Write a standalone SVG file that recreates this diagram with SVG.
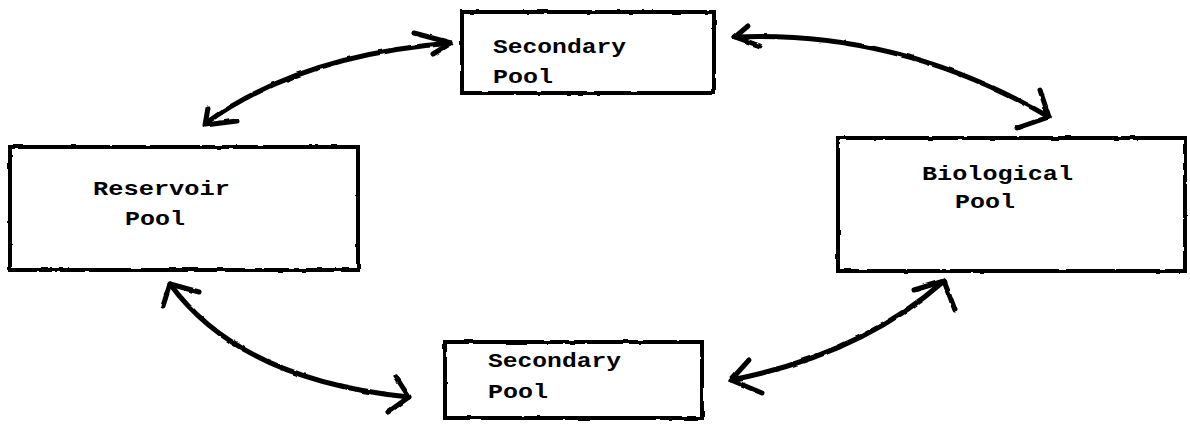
<svg xmlns="http://www.w3.org/2000/svg" width="1190" height="426" viewBox="0 0 1190 426">
  <style>
    .box { fill: none; stroke: #000; stroke-width: 4; stroke-linejoin: miter; }
    .flow { fill: none; stroke: #000; stroke-width: 5; stroke-linecap: round; stroke-linejoin: round; }
    .lbl { font-family: "Liberation Mono", "DejaVu Sans Mono", monospace; font-weight: bold; font-size: 21px; fill: #000; }
  </style>
  <defs>
    <!-- slight wobble for the hand-drawn ink lines -->
    <filter id="ink" x="-5%" y="-5%" width="110%" height="110%">
      <feTurbulence type="fractalNoise" baseFrequency="0.08" numOctaves="2" seed="3" result="n"/>
      <feDisplacementMap in="SourceGraphic" in2="n" scale="2.5" xChannelSelector="R" yChannelSelector="G"/>
    </filter>
  </defs>
  <rect width="1190" height="426" fill="#fff"/>

  <g id="secondary-top">
    <rect class="box" x="462" y="12" width="252" height="81" filter="url(#ink)"/>
    <text class="lbl" x="493" y="53" textLength="133" lengthAdjust="spacingAndGlyphs">Secondary</text>
    <text class="lbl" x="493" y="83" textLength="60" lengthAdjust="spacingAndGlyphs">Pool</text>
  </g>

  <g id="reservoir">
    <rect class="box" x="10" y="147" width="348" height="123" filter="url(#ink)"/>
    <text class="lbl" x="93" y="195" textLength="137" lengthAdjust="spacingAndGlyphs">Reservoir</text>
    <text class="lbl" x="125" y="225" textLength="60" lengthAdjust="spacingAndGlyphs">Pool</text>
  </g>

  <g id="biological">
    <rect class="box" x="838" y="138" width="347" height="133" filter="url(#ink)"/>
    <text class="lbl" x="922" y="180" textLength="151" lengthAdjust="spacingAndGlyphs">Biological</text>
    <text class="lbl" x="955" y="208" textLength="60" lengthAdjust="spacingAndGlyphs">Pool</text>
  </g>

  <g id="secondary-bottom">
    <rect class="box" x="445" y="342" width="257" height="76" filter="url(#ink)"/>
    <text class="lbl" x="488" y="367" textLength="133" lengthAdjust="spacingAndGlyphs">Secondary</text>
    <text class="lbl" x="488" y="398" textLength="60" lengthAdjust="spacingAndGlyphs">Pool</text>
  </g>

  <g id="connectors" filter="url(#ink)">
    <!-- reservoir <-> upper secondary -->
    <path class="flow" d="M451,43 Q300,55 206,123"/>
    <path class="flow" d="M414,33 L451,43 L433,54"/>
    <path class="flow" d="M208,108 L205,125 L237,121"/>

    <!-- upper secondary <-> biological -->
    <path class="flow" d="M735,37 Q900,30 1049,117"/>
    <path class="flow" d="M748,26 L735,37 L760,46"/>
    <path class="flow" d="M1040,90 L1049,117 L1017,128"/>

    <!-- reservoir <-> lower secondary -->
    <path class="flow" d="M170,284 Q240,380 409,397"/>
    <path class="flow" d="M163,306 L170,284 L199,292"/>
    <path class="flow" d="M396,377 L409,397 L388,412"/>

    <!-- lower secondary <-> biological -->
    <path class="flow" d="M731,380 Q860,355 944,281"/>
    <path class="flow" d="M749,360 L731,380 L762,393"/>
    <path class="flow" d="M914,290 L944,281 L955,310"/>
  </g>
</svg>
